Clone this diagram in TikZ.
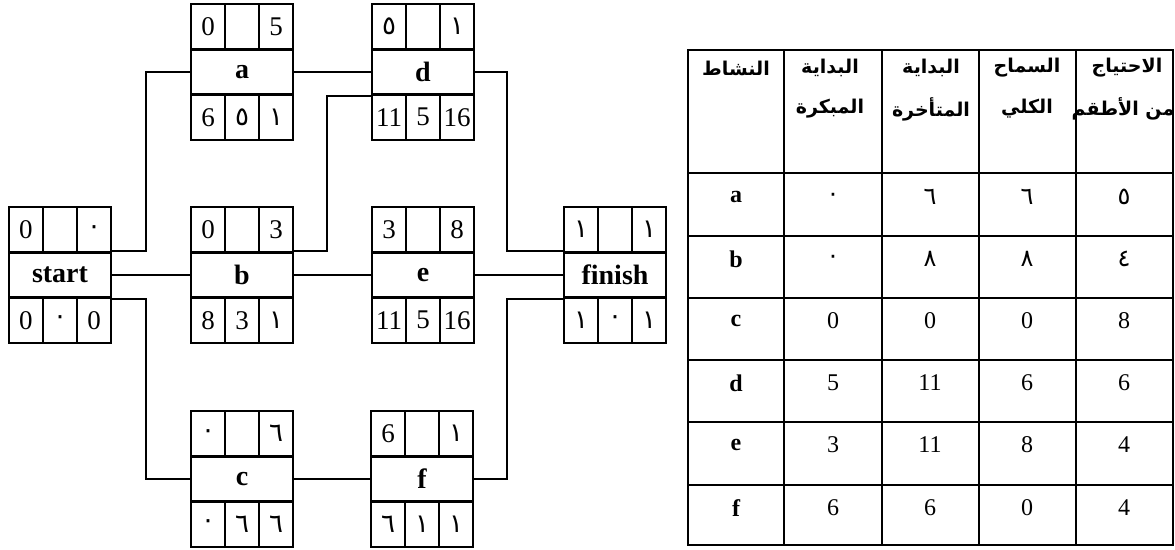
\documentclass[tikz,border=0pt]{standalone}
\usepackage{fontspec}
\setmainfont{Liberation Serif}
\newfontfamily\arabicfont[Script=Arabic]{DejaVu Sans}
\TeXXeTstate=1
\newcommand{\arnum}[1]{{\arabicfont\fontsize{26}{28}\selectfont #1}}
\newcommand{\arnumt}[1]{{\arabicfont\fontsize{24}{26}\selectfont #1}}
\newcommand{\arhead}[1]{{\arabicfont\bfseries\fontsize{19}{21}\selectfont\beginR #1\endR}}
\tikzset{
  cell/.style={draw, line width=2.6pt, minimum width=34pt, minimum height=45.3pt, inner sep=0pt, font=\fontsize{27}{29}\selectfont},
  mid/.style={draw, line width=2.6pt, minimum width=102pt, minimum height=45.3pt, inner sep=0pt, font=\fontsize{28}{30}\selectfont\bfseries},
  conn/.style={line width=1.8pt},
  tline/.style={line width=2.3pt},
  tcell/.style={inner sep=0pt, font=\fontsize{24}{26}\selectfont},
  thead/.style={inner sep=0pt, align=center}
}
% name, L, T, label, t1, t3, b1, b2, b3
\newcommand{\actbox}[9]{%
  \node[mid] (#1) at (#2+51, #3+68) {#4};
  \node[cell] (#1t1) at (#2+17, #3+22.65) {#5};
  \node[cell] (#1t2) at (#2+51, #3+22.65) {};
  \node[cell] (#1t3) at (#2+85, #3+22.65) {#6};
  \node[cell] (#1b1) at (#2+17, #3+113.25) {#7};
  \node[cell] (#1b2) at (#2+51, #3+113.25) {#8};
  \node[cell] (#1b3) at (#2+85, #3+113.25) {#9};
}
\begin{document}
\begin{tikzpicture}[x=1pt, y=-1pt]
\useasboundingbox (0,0) rectangle (1175,549);
\fill[white] (0,0) rectangle (1175,549);

\actbox{start}{9}{207}{start}{0}{\arnum{٠}}{0}{\arnum{٠}}{0}
\actbox{a}{191}{4}{a}{0}{5}{6}{\arnum{٥}}{\arnum{١}}
\actbox{d}{372}{4}{d}{\arnum{٥}}{\arnum{١}}{11}{5}{16}
\actbox{b}{191}{207}{b}{0}{3}{8}{3}{\arnum{١}}
\actbox{e}{372}{207}{e}{3}{8}{11}{5}{16}
\actbox{finish}{564}{207}{finish}{\arnum{١}}{\arnum{١}}{\arnum{١}}{\arnum{٠}}{\arnum{١}}
\actbox{c}{191}{411}{c}{\arnum{٠}}{\arnum{٦}}{\arnum{٠}}{\arnum{٦}}{\arnum{٦}}
\actbox{f}{371}{411}{f}{6}{\arnum{١}}{\arnum{٦}}{\arnum{١}}{\arnum{١}}

\coordinate (jL) at (146,0);
\coordinate (jM) at (327,0);
\coordinate (jR) at (507,0);

\draw[conn] (start.north east) -| (jL |- a.west) -- (a.west);
\draw[conn] (start.east) -- (b.west);
\draw[conn] (start.south east) -| (jL |- c.west) -- (c.west);
\draw[conn] (a.east) -- (d.west);
\draw[conn] (b.north east) -| (jM |- d.south west) -- (d.south west);
\draw[conn] (b.east) -- (e.west);
\draw[conn] (c.east) -- (f.west);
\draw[conn] (d.east) -| (jR |- finish.north west) -- (finish.north west);
\draw[conn] (e.east) -- (finish.west);
\draw[conn] (f.east) -| (jR |- finish.south west) -- (finish.south west);

% table
\draw[tline] (688,50) rectangle (1173,545);
\foreach \xx in {784,882,979,1076} \draw[tline] (\xx,50) -- (\xx,545);
\foreach \yy in {173,236,298,360,422,485} \draw[tline] (688,\yy) -- (1173,\yy);

\node[thead] (h1) at (736,68) {\arhead{النشاط}};
\node[thead] (h2a) at (830,68) {\arhead{البداية}};
\node[thead] (h2b) at (830,109) {\arhead{المبكرة}};
\node[thead] (h3a) at (931,68) {\arhead{البداية}};
\node[thead] (h3b) at (931,109) {\arhead{المتأخرة}};
\node[thead] (h4a) at (1027,68) {\arhead{السماح}};
\node[thead] (h4b) at (1027,109) {\arhead{الكلي}};
\node[thead] (h5a) at (1127,68) {\arhead{الاحتياج}};
\node[thead] (h5b) at (1123,109) {\arhead{من الأطقم}};

\foreach \lab/\yy/\va/\vb/\vc/\vd [count=\r] in {
  a/197/\arnumt{٠}/\arnumt{٦}/\arnumt{٦}/\arnumt{٥},
  b/259/\arnumt{٠}/\arnumt{٨}/\arnumt{٨}/\arnumt{٤},
  c/321/0/0/0/8,
  d/383/5/11/6/6,
  e/445/3/11/8/4,
  f/508/6/6/0/4} {
  \node[tcell, font=\fontsize{24}{26}\selectfont\bfseries] (r\r c1) at (736,\yy) {\lab};
  \node[tcell] (r\r c2) at (833,\yy) {\va};
  \node[tcell] (r\r c3) at (930,\yy) {\vb};
  \node[tcell] (r\r c4) at (1027,\yy) {\vc};
  \node[tcell] (r\r c5) at (1124,\yy) {\vd};
}
\end{tikzpicture}
\end{document}
